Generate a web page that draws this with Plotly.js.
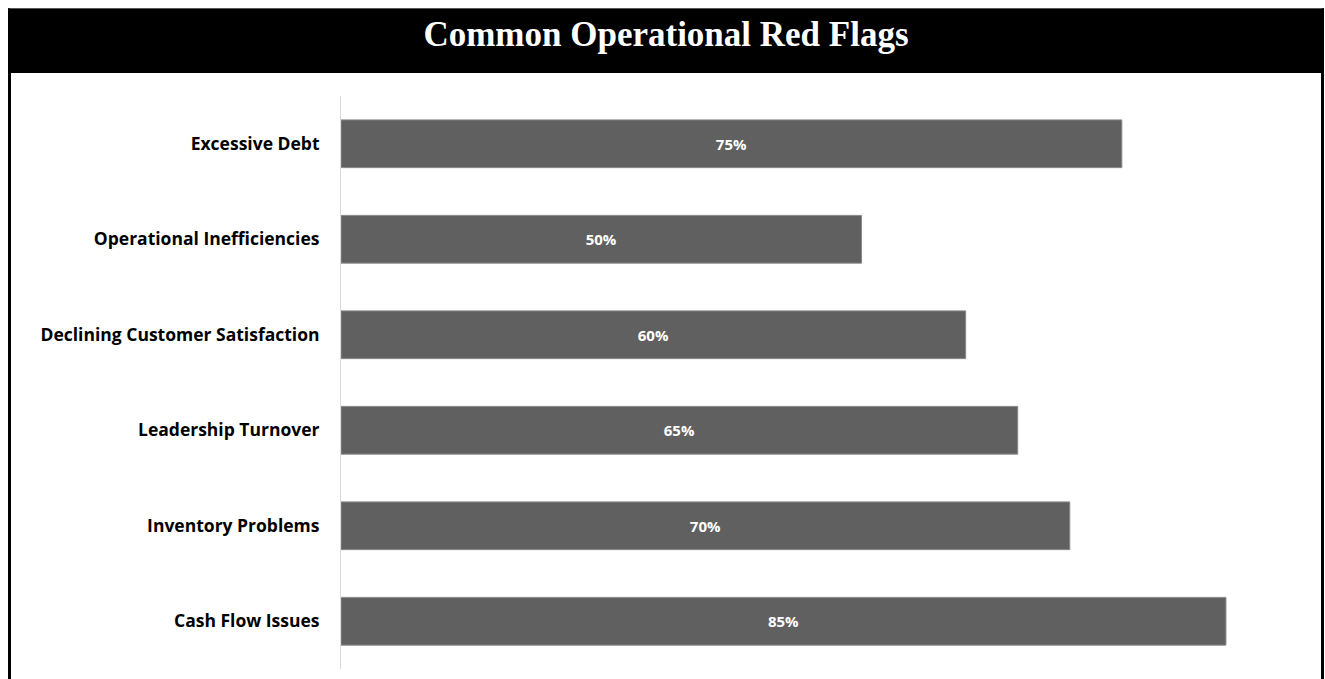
<!DOCTYPE html>
<html>
<head>
<meta charset="utf-8">
<script src="https://cdn.plot.ly/plotly-3.0.1.min.js"></script>
<style>
  html, body { margin: 0; padding: 0; background: #ffffff; overflow: hidden; }
  #frame { position: absolute; left: 8px; top: 8px; width: 1310px; height: 700px;
           border-left: 3px solid #000; border-right: 3px solid #000; border-top: 1px solid #555; }
  #head { position: absolute; left: 0; top: 0; width: 100%; height: 64px; background: #000;
          color: #fff; font-family: "Liberation Serif", "Times New Roman", serif; font-weight: bold;
          font-size: 35px; text-align: center; line-height: normal; padding-top: 6px; box-sizing: border-box; }
  #chart { position: absolute; left: 0; top: 64px; width: 1310px; height: 606px; }
</style>
</head>
<body>
<div id="frame">
  <div id="head">Common Operational Red Flags</div>
  <div id="chart"></div>
</div>
<script>
const chartTitle = "Common Operational Red Flags";
const categories = ["Cash Flow Issues", "Inventory Problems", "Leadership Turnover",
                    "Declining Customer Satisfaction", "Operational Inefficiencies", "Excessive Debt"];
const percentages = [85, 70, 65, 60, 50, 75];
const valueLabels = ["85%", "70%", "65%", "60%", "50%", "75%"];

document.getElementById('head').textContent = chartTitle;

const trace = {
  type: 'bar',
  orientation: 'h',
  x: percentages,
  y: categories,
  text: valueLabels,
  textposition: 'inside',
  insidetextanchor: 'middle',
  textfont: { family: '"Open Sans", sans-serif', size: 15, color: '#ffffff', weight: 'bold' },
  marker: { color: '#606060', line: { color: '#8a8a8a', width: 1 } },
  hoverinfo: 'skip'
};

const layout = {
  width: 1310, height: 606,
  margin: { l: 330, r: 43, t: 23, b: 10 },
  paper_bgcolor: '#ffffff', plot_bgcolor: '#ffffff',
  showlegend: false,
  bargap: 0.5,
  xaxis: { range: [0, 90], showgrid: false, zeroline: false, showticklabels: false,
           showline: false, ticks: '' },
  yaxis: { type: 'category', showgrid: false, zeroline: false, showline: true,
           linecolor: '#d9d9d9', linewidth: 1, ticks: '', ticklabelstandoff: 17,
           tickfont: { family: '"Open Sans", sans-serif', size: 17.5, color: '#000000', weight: 'bold' } },
  font: { family: '"Open Sans", sans-serif' }
};

Plotly.newPlot('chart', [trace], layout, { displayModeBar: false, staticPlot: true });
</script>
</body>
</html>
